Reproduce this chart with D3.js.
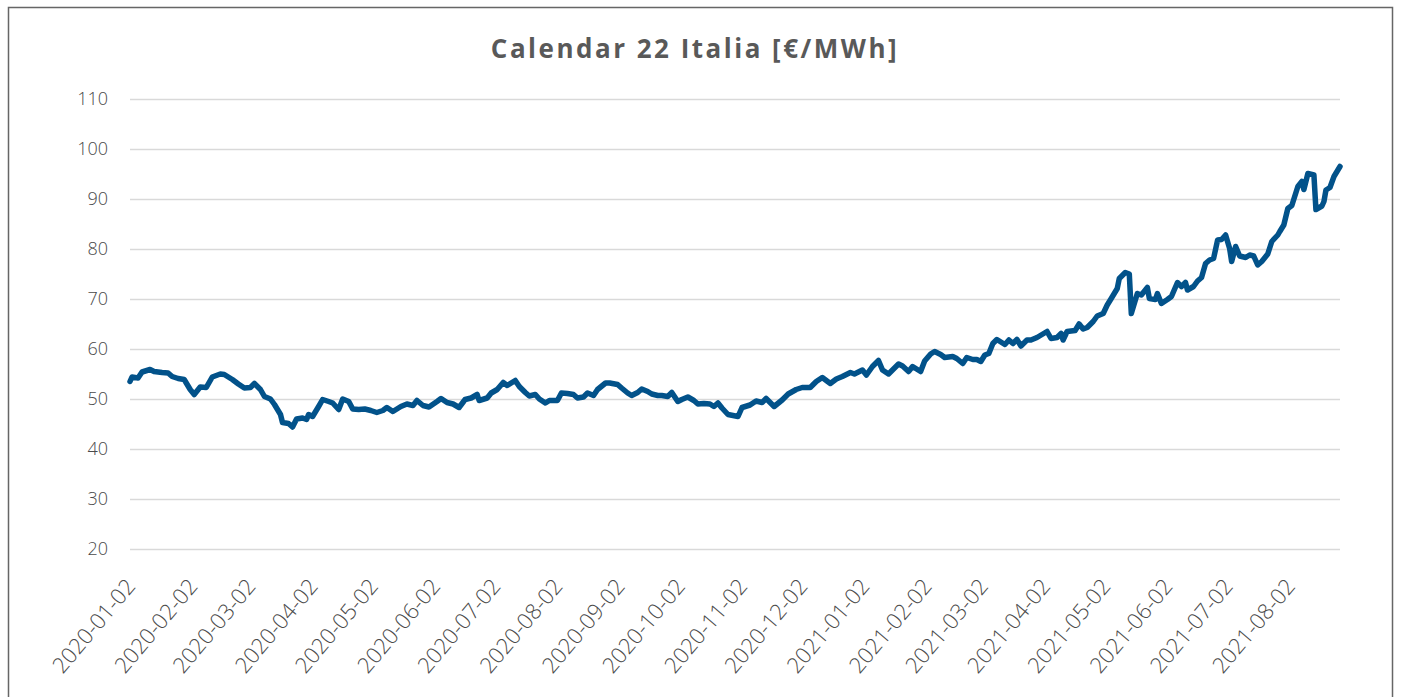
<!DOCTYPE html>
<html>
<head>
<meta charset="utf-8">
<script src="https://cdn.jsdelivr.net/npm/d3@7"></script>
<style>
    html, body { margin: 0; padding: 0; background: #fff; }
</style>
</head>
<body>
<div id="chart"></div>
<script>
const title = 'Calendar 22 Italia [€/MWh]';

const dates = [
    '2020-01-02', '2020-01-03', '2020-01-06', '2020-01-08', '2020-01-12', '2020-01-14', '2020-01-18', '2020-01-21',
    '2020-01-23', '2020-01-26', '2020-01-29', '2020-02-01', '2020-02-03', '2020-02-06', '2020-02-09', '2020-02-12',
    '2020-02-16', '2020-02-18', '2020-02-22', '2020-02-25', '2020-02-28', '2020-03-02', '2020-03-04', '2020-03-07',
    '2020-03-09', '2020-03-12', '2020-03-14', '2020-03-17', '2020-03-18', '2020-03-21', '2020-03-23', '2020-03-25',
    '2020-03-28', '2020-03-30', '2020-03-31', '2020-04-02', '2020-04-05', '2020-04-07', '2020-04-10', '2020-04-12',
    '2020-04-15', '2020-04-17', '2020-04-20', '2020-04-22', '2020-04-25', '2020-04-28', '2020-05-01', '2020-05-04',
    '2020-05-07', '2020-05-09', '2020-05-12', '2020-05-16', '2020-05-19', '2020-05-22', '2020-05-24', '2020-05-27',
    '2020-05-30', '2020-06-03', '2020-06-05', '2020-06-08', '2020-06-11', '2020-06-14', '2020-06-17', '2020-06-20',
    '2020-06-23', '2020-06-24', '2020-06-28', '2020-06-30', '2020-07-03', '2020-07-06', '2020-07-08', '2020-07-12',
    '2020-07-14', '2020-07-17', '2020-07-19', '2020-07-22', '2020-07-24', '2020-07-27', '2020-07-29', '2020-08-02',
    '2020-08-04', '2020-08-07', '2020-08-10', '2020-08-12', '2020-08-15', '2020-08-17', '2020-08-20', '2020-08-22',
    '2020-08-26', '2020-08-28', '2020-09-01', '2020-09-03', '2020-09-06', '2020-09-08', '2020-09-11', '2020-09-13',
    '2020-09-16', '2020-09-18', '2020-09-21', '2020-09-23', '2020-09-26', '2020-09-28', '2020-10-01', '2020-10-03',
    '2020-10-06', '2020-10-09', '2020-10-11', '2020-10-14', '2020-10-17', '2020-10-19', '2020-10-21', '2020-10-23',
    '2020-10-26', '2020-10-31', '2020-11-02', '2020-11-06', '2020-11-09', '2020-11-12', '2020-11-14', '2020-11-18',
    '2020-11-22', '2020-11-25', '2020-11-29', '2020-12-02', '2020-12-06', '2020-12-09', '2020-12-12', '2020-12-16',
    '2020-12-19', '2020-12-22', '2020-12-26', '2020-12-28', '2021-01-01', '2021-01-03', '2021-01-06', '2021-01-09',
    '2021-01-11', '2021-01-14', '2021-01-16', '2021-01-19', '2021-01-21', '2021-01-24', '2021-01-26', '2021-01-30',
    '2021-02-01', '2021-02-04', '2021-02-06', '2021-02-09', '2021-02-11', '2021-02-15', '2021-02-17', '2021-02-20',
    '2021-02-22', '2021-02-25', '2021-02-27', '2021-03-01', '2021-03-03', '2021-03-05', '2021-03-07', '2021-03-09',
    '2021-03-13', '2021-03-15', '2021-03-17', '2021-03-19', '2021-03-21', '2021-03-24', '2021-03-26', '2021-03-29',
    '2021-04-03', '2021-04-05', '2021-04-08', '2021-04-10', '2021-04-11', '2021-04-13', '2021-04-17', '2021-04-19',
    '2021-04-21', '2021-04-23', '2021-04-26', '2021-04-28', '2021-05-01', '2021-05-03', '2021-05-05', '2021-05-08',
    '2021-05-09', '2021-05-12', '2021-05-14', '2021-05-15', '2021-05-18', '2021-05-20', '2021-05-23', '2021-05-24',
    '2021-05-27', '2021-05-28', '2021-05-30', '2021-06-02', '2021-06-04', '2021-06-07', '2021-06-09', '2021-06-11',
    '2021-06-12', '2021-06-15', '2021-06-17', '2021-06-19', '2021-06-21', '2021-06-23', '2021-06-25', '2021-06-27',
    '2021-06-29', '2021-07-01', '2021-07-03', '2021-07-04', '2021-07-06', '2021-07-08', '2021-07-11', '2021-07-13',
    '2021-07-15', '2021-07-17', '2021-07-19', '2021-07-22', '2021-07-24', '2021-07-27', '2021-07-28', '2021-07-30',
    '2021-08-01', '2021-08-03', '2021-08-06', '2021-08-08', '2021-08-09', '2021-08-11', '2021-08-14', '2021-08-15',
    '2021-08-18', '2021-08-19', '2021-08-20', '2021-08-22', '2021-08-24', '2021-08-27'
];

const prices = [
    53.5, 54.4, 54.2, 55.4, 55.9, 55.5, 55.3, 55.2,
    54.5, 54.1, 53.9, 51.9, 50.9, 52.4, 52.3, 54.4,
    55.0, 54.9, 53.9, 53.0, 52.2, 52.3, 53.1, 51.9,
    50.5, 50.0, 48.9, 46.9, 45.3, 45.1, 44.4, 46.0,
    46.2, 45.9, 46.9, 46.5, 48.5, 49.9, 49.5, 49.2,
    47.9, 50.0, 49.5, 48.0, 47.9, 48.0, 47.7, 47.3,
    47.7, 48.3, 47.5, 48.5, 49.0, 48.7, 49.7, 48.7,
    48.4, 49.5, 50.1, 49.3, 49.0, 48.3, 49.9, 50.2,
    50.9, 49.7, 50.2, 51.2, 51.9, 53.3, 52.7, 53.7,
    52.5, 51.3, 50.6, 50.9, 50.0, 49.2, 49.7, 49.7,
    51.2, 51.1, 50.9, 50.2, 50.4, 51.2, 50.7, 51.9,
    53.2, 53.2, 52.9, 52.2, 51.2, 50.7, 51.3, 52.0,
    51.5, 51.0, 50.7, 50.7, 50.5, 51.3, 49.5, 49.9,
    50.4, 49.7, 49.0, 49.1, 49.0, 48.5, 49.2, 48.2,
    46.9, 46.5, 48.3, 48.8, 49.6, 49.3, 50.1, 48.5,
    49.8, 51.0, 51.9, 52.3, 52.3, 53.5, 54.3, 53.1,
    54.0, 54.5, 55.3, 55.0, 55.8, 54.8, 56.5, 57.7,
    55.8, 55.0, 55.8, 57.0, 56.6, 55.5, 56.5, 55.5,
    57.6, 59.0, 59.5, 58.9, 58.3, 58.5, 58.1, 57.1,
    58.3, 57.9, 57.9, 57.5, 58.8, 59.1, 61.1, 61.9,
    60.9, 61.8, 61.1, 61.9, 60.6, 61.8, 61.8, 62.3,
    63.5, 62.1, 62.3, 63.1, 61.8, 63.5, 63.7, 65.0,
    64.0, 64.3, 65.5, 66.6, 67.1, 68.8, 70.1, 72.1,
    74.1, 75.3, 75.0, 67.1, 71.1, 70.8, 72.3, 70.1,
    69.9, 71.1, 69.1, 69.9, 70.5, 73.3, 72.5, 73.3,
    71.8, 72.5, 73.6, 74.3, 77.1, 77.8, 78.1, 81.8,
    81.9, 82.8, 80.1, 77.5, 80.5, 78.6, 78.3, 78.8,
    78.6, 76.8, 77.5, 79.0, 81.5, 82.8, 83.5, 84.8,
    88.1, 88.7, 92.5, 93.5, 91.9, 95.1, 94.8, 87.9,
    88.6, 89.5, 91.8, 92.3, 94.5, 96.5
];

const yTicks = [20, 30, 40, 50, 60, 70, 80, 90, 100, 110];

const xTickLabels = [
    '2020-01-02', '2020-02-02', '2020-03-02', '2020-04-02', '2020-05-02', '2020-06-02', '2020-07-02',
    '2020-08-02', '2020-09-02', '2020-10-02', '2020-11-02', '2020-12-02', '2021-01-02', '2021-02-02',
    '2021-03-02', '2021-04-02', '2021-05-02', '2021-06-02', '2021-07-02', '2021-08-02'
];

function drawChart(containerEl) {
    const width = 1401,
        height = 697,
        margin = { top: 99, right: 61, bottom: 148, left: 130 },
        parseDate = d3.utcParse('%Y-%m-%d'),
        textColor = '#4a4a4a',
        series = dates.map((d, i) => ({ date: parseDate(d), value: prices[i] }));

    const x = d3.scaleUtc()
            .domain([parseDate(dates[0]), parseDate(dates[dates.length - 1])])
            .range([margin.left, width - margin.right]),
        y = d3.scaleLinear()
            .domain([yTicks[0], yTicks[yTicks.length - 1]])
            .range([height - margin.bottom, margin.top]);

    const svg = d3.select(containerEl)
        .append('svg')
        .attr('width', width)
        .attr('height', height)
        .style('display', 'block');

    // outer frame of the chart area
    svg.append('rect')
        .attr('x', 8.5)
        .attr('y', 7.5)
        .attr('width', 1384)
        .attr('height', 720)
        .attr('fill', '#fff')
        .attr('stroke', '#666')
        .attr('stroke-width', 1.5);

    svg.append('text')
        .attr('x', 695)
        .attr('y', 58)
        .attr('text-anchor', 'middle')
        .attr('fill', '#595959')
        .style('font', 'bold 26px "Open Sans", sans-serif')
        .style('letter-spacing', '2.5px')
        .text(title);

    const yAxis = g => g
        .attr('transform', `translate(${margin.left},0)`)
        .call(d3.axisLeft(y)
            .tickValues(yTicks)
            .tickSize(-(width - margin.left - margin.right))
            .tickPadding(22))
        .call(g => g.select('.domain').remove())
        .call(g => g.selectAll('.tick line')
            .attr('stroke', '#d9d9d9')
            .attr('stroke-width', 1.5))
        .call(g => g.selectAll('.tick text')
            .attr('fill', textColor)
            .style('font', '300 18px "Open Sans", sans-serif'));

    const xAxis = g => g
        .attr('transform', `translate(0,${height - margin.bottom})`)
        .call(d3.axisBottom(x)
            .tickValues(xTickLabels.map(parseDate))
            .tickFormat(d3.utcFormat('%Y-%m-%d'))
            .tickSize(0))
        .call(g => g.select('.domain').remove())
        .call(g => g.selectAll('.tick text')
            .attr('fill', textColor)
            .attr('text-anchor', 'end')
            .attr('x', 0)
            .attr('y', 0)
            .attr('dy', 0)
            .attr('transform', 'translate(6,38) rotate(-50)')
            .style('font', '300 22px "Open Sans", sans-serif'));

    svg.append('g').call(yAxis);
    svg.append('g').call(xAxis);

    const line = d3.line()
        .x(d => x(d.date))
        .y(d => y(d.value));

    svg.append('path')
        .datum(series)
        .attr('fill', 'none')
        .attr('stroke', '#02528a')
        .attr('stroke-width', 5.5)
        .attr('stroke-linejoin', 'round')
        .attr('stroke-linecap', 'round')
        .attr('d', line);
}

drawChart(document.getElementById('chart'));
</script>
</body>
</html>
